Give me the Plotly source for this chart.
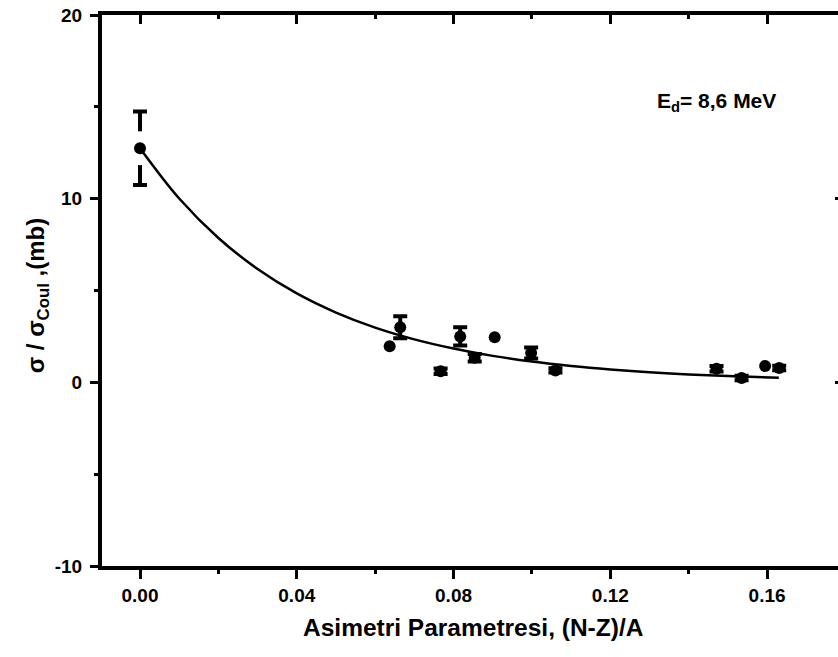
import plotly.graph_objects as go

# Measured points: asymmetry parameter (N-Z)/A vs. sigma / sigma_Coul (mb)
asym = [0.0000, 0.0637, 0.0664, 0.0767, 0.0817, 0.0854, 0.0905,
        0.0998, 0.1060, 0.1471, 0.1535, 0.1595, 0.1631]
ratio = [12.75, 1.96, 3.00, 0.60, 2.50, 1.34, 2.46,
         1.60, 0.65, 0.74, 0.24, 0.89, 0.78]
ratio_err = [2.00, 0.0, 0.60, 0.15, 0.50, 0.20, 0.0,
             0.30, 0.12, 0.15, 0.12, 0.0, 0.12]

# Exponential fit curve
fit_x = [0.000, 0.010, 0.020, 0.030, 0.040, 0.050, 0.060, 0.070, 0.080,
         0.090, 0.100, 0.110, 0.120, 0.130, 0.140, 0.150, 0.163]
fit_y = [12.75, 10.01, 7.86, 6.17, 4.84, 3.80, 2.98, 2.34, 1.84,
         1.44, 1.13, 0.89, 0.70, 0.55, 0.43, 0.34, 0.25]

x_ticks = [0.00, 0.04, 0.08, 0.12, 0.16]
x_labels = ["0.00", "0.04", "0.08", "0.12", "0.16"]
y_ticks = [-10, 0, 10, 20]
y_labels = ["-10", "0", "10", "20"]

X_RANGE = [-0.0097, 0.1781]
Y_RANGE = [-10, 20]
FONT = "Liberation Sans"

err_x = [a for a, e in zip(asym, ratio_err) if e > 0]
err_y = [r for r, e in zip(ratio, ratio_err) if e > 0]
err_v = [e for e in ratio_err if e > 0]

fig = go.Figure()

# error bars (markers drawn separately on top)
fig.add_trace(go.Scatter(
    x=err_x, y=err_y, mode="markers",
    marker=dict(color="rgba(0,0,0,0)", size=12),
    error_y=dict(type="data", array=err_v, visible=True,
                 color="black", thickness=4, width=7),
    hoverinfo="skip", showlegend=False))

# white gap between the symbol and the long error bar at x = 0
fig.add_trace(go.Scatter(
    x=[asym[0]], y=[ratio[0]], mode="markers",
    marker=dict(color="white", size=34, line=dict(width=0)),
    hoverinfo="skip", showlegend=False))

fig.add_trace(go.Scatter(
    x=asym, y=ratio, mode="markers",
    marker=dict(color="black", size=12, line=dict(width=0)),
    showlegend=False))

# fit line on the overlay axes (top / right frame)
fig.add_trace(go.Scatter(
    x=fit_x, y=fit_y, mode="lines", xaxis="x2", yaxis="y2",
    line=dict(color="black", width=2.5, shape="spline"),
    showlegend=False))

tick_font = dict(family=FONT, size=19, color="black", weight="bold")

fig.update_layout(
    width=838, height=657,
    margin=dict(l=102, r=0, t=15, b=91),
    paper_bgcolor="white", plot_bgcolor="white",
    showlegend=False,
    xaxis=dict(
        range=X_RANGE, tickvals=x_ticks, ticktext=x_labels,
        ticks="outside", ticklen=9, tickwidth=3, tickcolor="black",
        showline=True, linewidth=4, linecolor="black",
        showgrid=False, zeroline=False, tickfont=tick_font,
        minor=dict(dtick=0.02, tick0=0, ticks="outside", ticklen=4,
                   tickwidth=3, tickcolor="black", showgrid=False),
    ),
    xaxis2=dict(
        range=X_RANGE, overlaying="x", side="top", anchor="y",
        tickvals=x_ticks, showticklabels=False,
        ticks="inside", ticklen=9, tickwidth=3, tickcolor="black",
        showline=True, linewidth=4, linecolor="black",
        showgrid=False, zeroline=False,
        minor=dict(dtick=0.02, tick0=0, ticks="inside", ticklen=4,
                   tickwidth=3, tickcolor="black", showgrid=False),
    ),
    yaxis=dict(
        range=Y_RANGE, tickvals=y_ticks, ticktext=y_labels,
        ticks="outside", ticklen=8, tickwidth=3, tickcolor="black",
        showline=True, linewidth=4, linecolor="black",
        showgrid=False, zeroline=False, tickfont=tick_font,
        ticklabelstandoff=4,
        minor=dict(dtick=5, tick0=0, ticks="outside", ticklen=4,
                   tickwidth=3, tickcolor="black", showgrid=False),
    ),
    yaxis2=dict(
        range=Y_RANGE, overlaying="y", side="right", anchor="x",
        tickvals=y_ticks, showticklabels=False,
        ticks="inside", ticklen=3, tickwidth=3, tickcolor="black",
        showline=False, showgrid=False, zeroline=False,
    ),
    annotations=[
        dict(text="Asimetri Parametresi, (N-Z)/A",
             xref="paper", yref="paper", x=0.505, y=-0.111,
             xanchor="center", yanchor="middle", showarrow=False,
             font=dict(family=FONT, size=24.5, color="black", weight="bold")),
        dict(text="σ / σ<sub>Coul</sub> ,(mb)",
             xref="paper", yref="paper", x=-0.088, y=0.49,
             xanchor="center", yanchor="middle", textangle=-90,
             showarrow=False,
             font=dict(family=FONT, size=24, color="black", weight="bold")),
        dict(text="E<sub>d</sub>= 8,6 MeV",
             xref="paper", yref="paper", x=0.918, y=0.842,
             xanchor="right", yanchor="middle", showarrow=False,
             font=dict(family=FONT, size=21, color="black", weight="bold")),
    ],
)

fig.write_html("out.html")
